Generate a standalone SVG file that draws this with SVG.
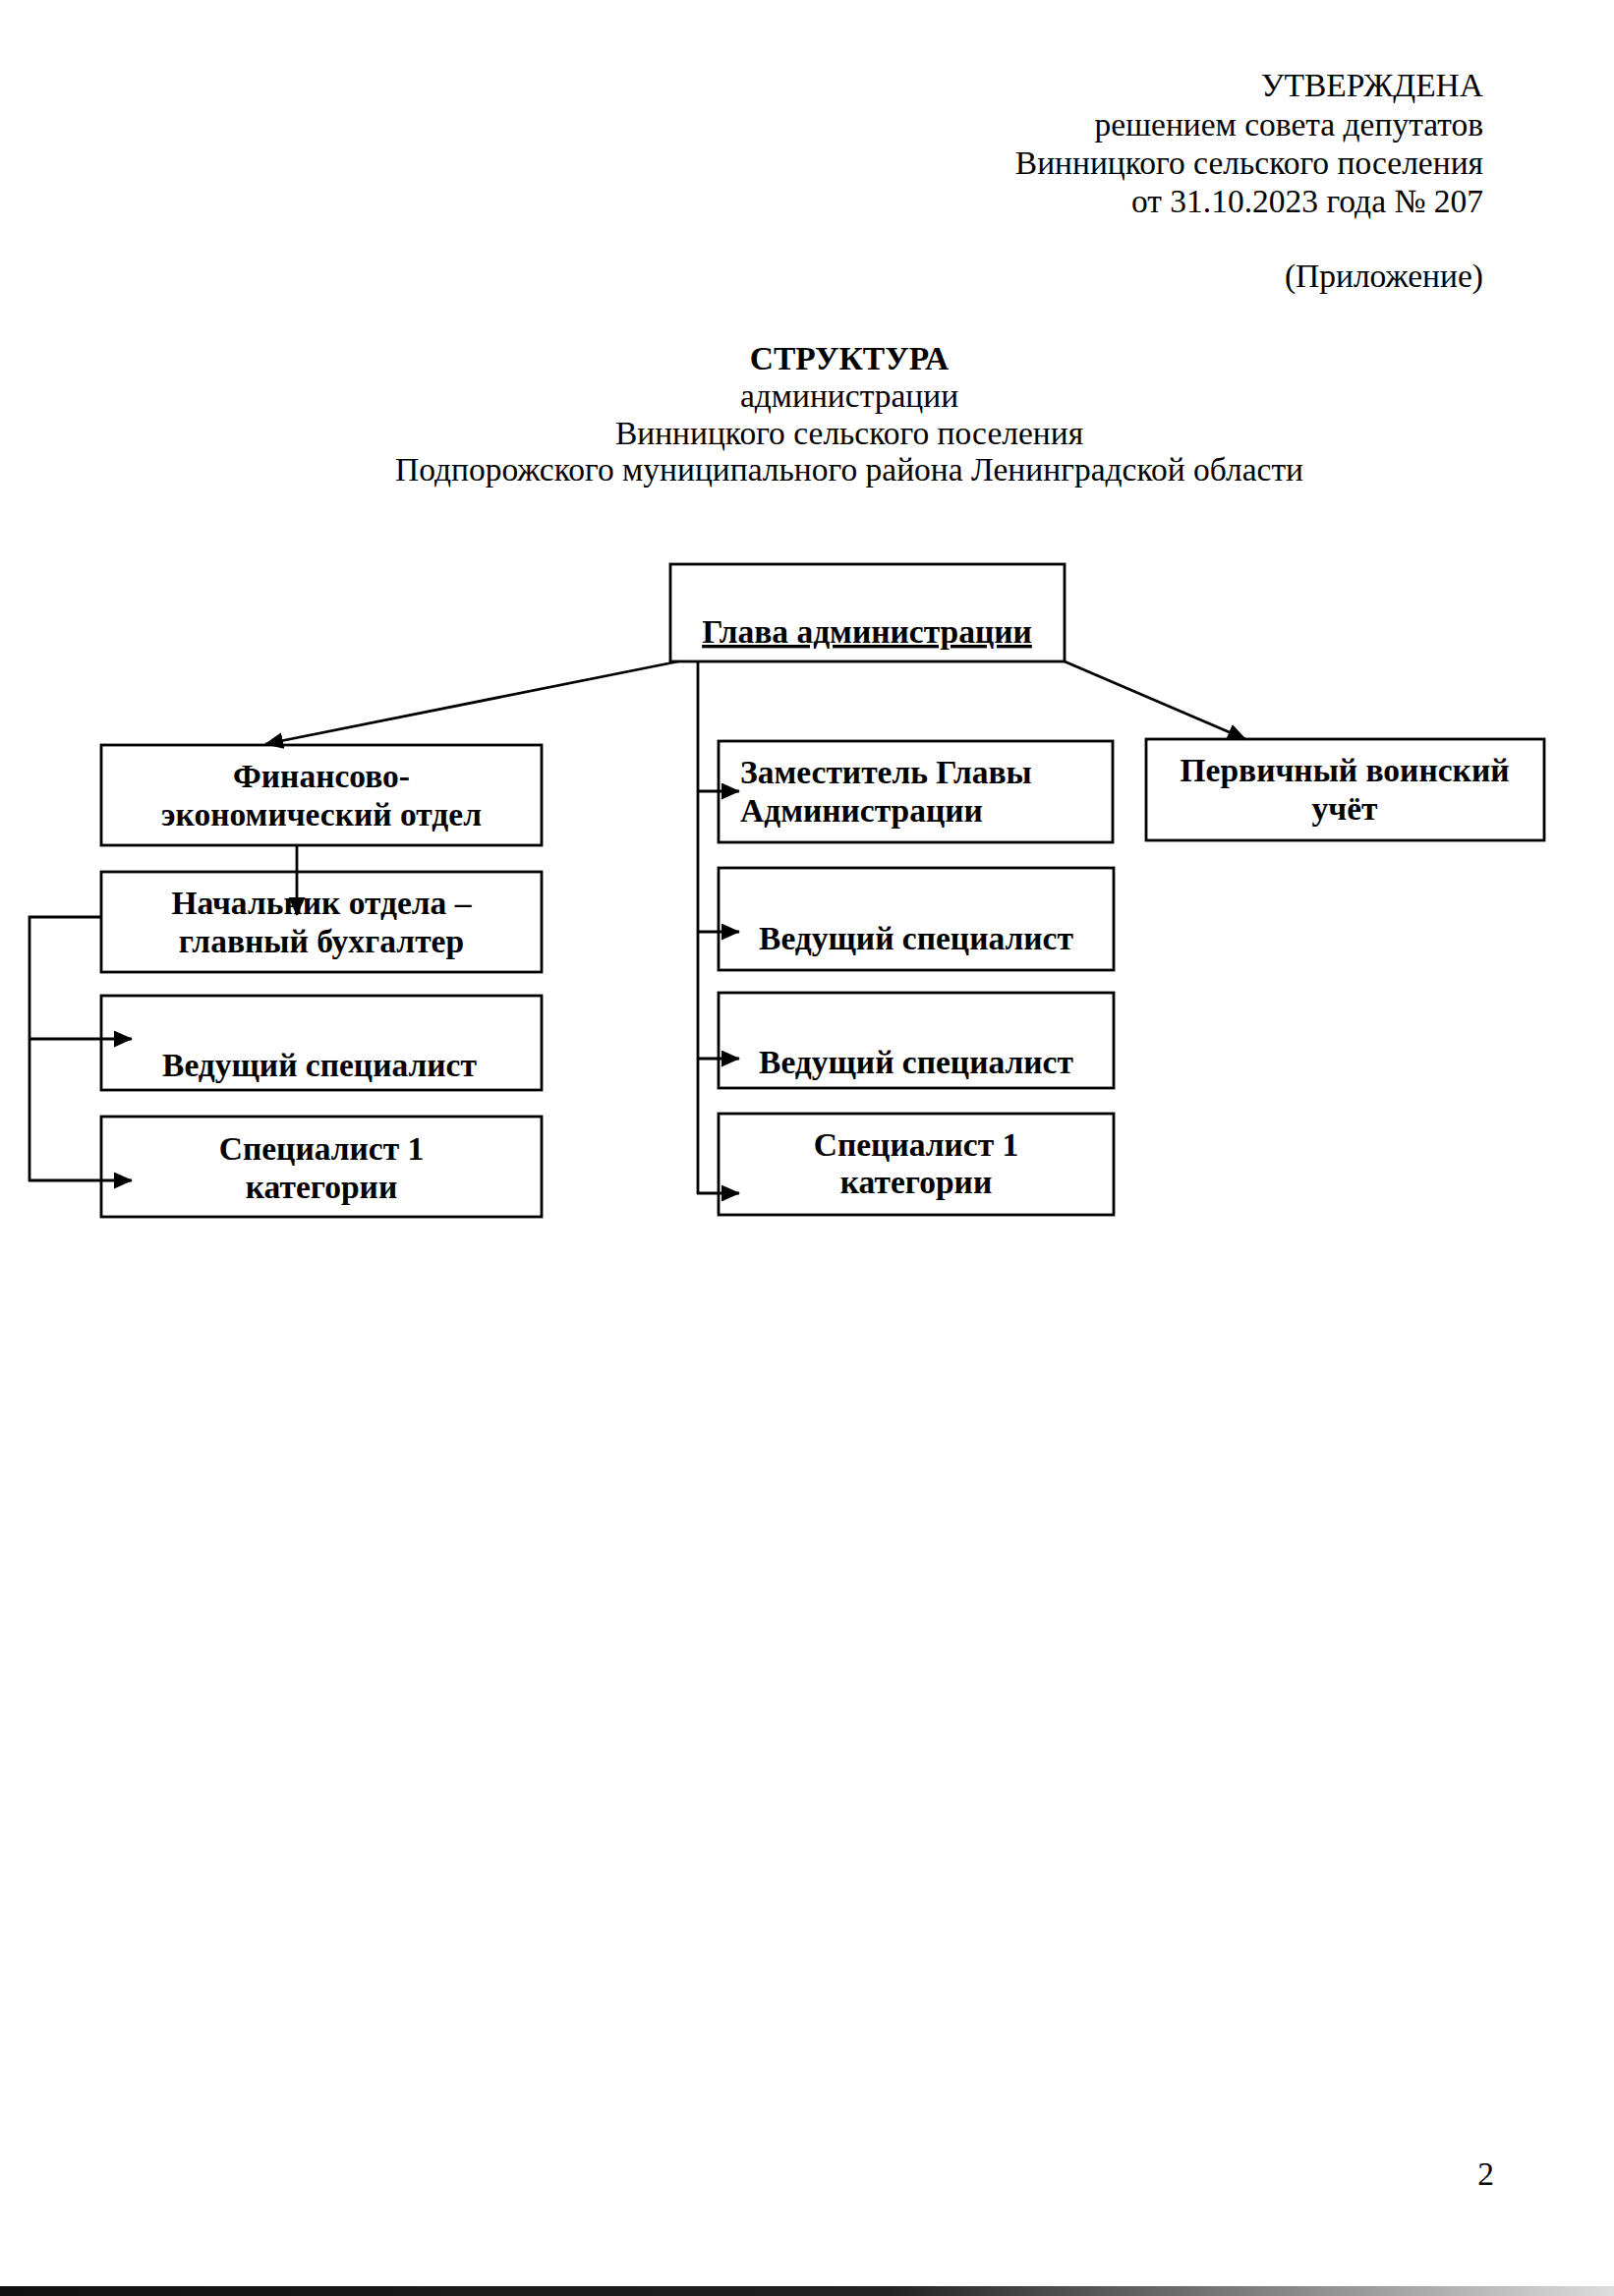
<svg xmlns="http://www.w3.org/2000/svg" width="1642" height="2336" viewBox="0 0 1642 2336">
<style>
.hdr{font-family:"Liberation Serif","Times New Roman",serif;font-size:33.5px;fill:#000}
.bx{fill:#fff;stroke:#000;stroke-width:2.8}
.t{font-family:"Liberation Serif","Times New Roman",serif;font-size:33.5px;font-weight:bold;fill:#000}
.ln{fill:none;stroke:#000;stroke-width:2.8}
</style>
<defs>
<marker id="ah" viewBox="0 0 10 10" refX="9.5" refY="5" markerWidth="19" markerHeight="17" markerUnits="userSpaceOnUse" orient="auto" preserveAspectRatio="none">
<path d="M0,0 L10,5 L0,10 z" fill="#000"/>
</marker>
<linearGradient id="band" x1="0" y1="0" x2="1" y2="0">
<stop offset="0" stop-color="#111"/>
<stop offset="0.55" stop-color="#222"/>
<stop offset="0.8" stop-color="#888"/>
<stop offset="1" stop-color="#ddd"/>
</linearGradient>
</defs>
<rect x="0" y="0" width="1642" height="2336" fill="#fff"/>

<g id="header" class="hdr" text-anchor="end">
<text x="1509" y="98">УТВЕРЖДЕНА</text>
<text x="1509" y="138">решением совета депутатов</text>
<text x="1509" y="177">Винницкого сельского поселения</text>
<text x="1509" y="216">от 31.10.2023 года № 207</text>
<text x="1509" y="292">(Приложение)</text>
</g>

<g id="title" class="hdr" text-anchor="middle">
<text x="864" y="376" font-weight="bold">СТРУКТУРА</text>
<text x="864" y="414">администрации</text>
<text x="864" y="452">Винницкого сельского поселения</text>
<text x="864" y="489">Подпорожского муниципального района Ленинградской области</text>
</g>

<g id="glava">
<rect class="bx" x="682" y="574" width="401" height="99"/>
<text class="t" x="882" y="654" text-anchor="middle" text-decoration="underline">Глава администрации</text>
</g>

<g id="finansovo">
<rect class="bx" x="103" y="758" width="448" height="102"/>
<text class="t" x="327" y="801" text-anchor="middle">Финансово-</text>
<text class="t" x="327" y="840" text-anchor="middle">экономический отдел</text>
</g>

<g id="nachalnik">
<rect class="bx" x="103" y="887" width="448" height="102"/>
<text class="t" x="327" y="930" text-anchor="middle">Начальник отдела –</text>
<text class="t" x="327" y="969" text-anchor="middle">главный бухгалтер</text>
</g>

<g id="vedushchiy-left">
<rect class="bx" x="103" y="1013" width="448" height="96"/>
<text class="t" x="325" y="1095" text-anchor="middle">Ведущий специалист</text>
</g>

<g id="spec1-left">
<rect class="bx" x="103" y="1136" width="448" height="102"/>
<text class="t" x="327" y="1180" text-anchor="middle">Специалист 1</text>
<text class="t" x="327" y="1219" text-anchor="middle">категории</text>
</g>

<g id="zamestitel">
<rect class="bx" x="731" y="754" width="401" height="103"/>
<text class="t" x="753" y="797">Заместитель Главы</text>
<text class="t" x="753" y="836">Администрации</text>
</g>

<g id="vedushchiy-1">
<rect class="bx" x="731" y="883" width="402" height="104"/>
<text class="t" x="932" y="966" text-anchor="middle">Ведущий специалист</text>
</g>

<g id="vedushchiy-2">
<rect class="bx" x="731" y="1010" width="402" height="97"/>
<text class="t" x="932" y="1092" text-anchor="middle">Ведущий специалист</text>
</g>

<g id="spec1-right">
<rect class="bx" x="731" y="1133" width="402" height="103"/>
<text class="t" x="932" y="1176" text-anchor="middle">Специалист 1</text>
<text class="t" x="932" y="1214" text-anchor="middle">категории</text>
</g>

<g id="pervichny">
<rect class="bx" x="1166" y="752" width="405" height="103"/>
<text class="t" x="1368" y="795" text-anchor="middle">Первичный воинский</text>
<text class="t" x="1368" y="834" text-anchor="middle">учёт</text>
</g>

<g id="connectors">
<line class="ln" x1="690" y1="673" x2="270" y2="757" marker-end="url(#ah)"/>
<line class="ln" x1="1083" y1="673" x2="1267" y2="752" marker-end="url(#ah)"/>
<line class="ln" x1="710" y1="673" x2="710" y2="1215"/>
<line class="ln" x1="709" y1="805" x2="752" y2="805" marker-end="url(#ah)"/>
<line class="ln" x1="709" y1="948" x2="752" y2="948" marker-end="url(#ah)"/>
<line class="ln" x1="709" y1="1077" x2="752" y2="1077" marker-end="url(#ah)"/>
<line class="ln" x1="709" y1="1214" x2="752" y2="1214" marker-end="url(#ah)"/>
<line class="ln" x1="302" y1="860" x2="302" y2="931" marker-end="url(#ah)"/>
<polyline class="ln" points="103,933 30,933 30,1202"/>
<line class="ln" x1="29" y1="1057" x2="134" y2="1057" marker-end="url(#ah)"/>
<line class="ln" x1="29" y1="1201" x2="134" y2="1201" marker-end="url(#ah)"/>
</g>

<g id="page-number">
<text class="hdr" x="1520" y="2223" text-anchor="end">2</text>
</g>

<rect x="0" y="2326" width="1642" height="10" fill="url(#band)"/>
</svg>
